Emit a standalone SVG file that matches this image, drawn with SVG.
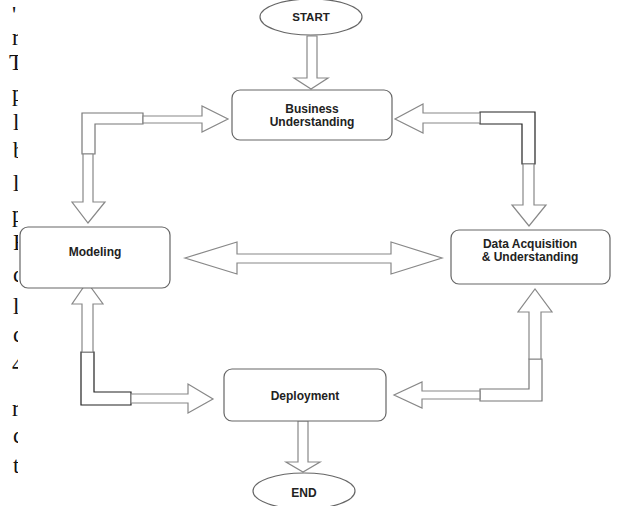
<svg xmlns="http://www.w3.org/2000/svg" width="619" height="506" viewBox="0 0 619 506">
<defs>
<clipPath id="clipL"><rect x="0" y="0" width="18" height="506"/></clipPath>
</defs>
<style>
.frag{font-family:"Liberation Serif","Times New Roman",serif;font-size:23px;fill:#111}
.box{fill:#fff;stroke:#666;stroke-width:1.2}
.ell{fill:#fff;stroke:#666;stroke-width:1.2}
.lbl{font-family:"Liberation Sans",Arial,sans-serif;font-size:12px;font-weight:bold;fill:#222;text-anchor:middle}
.arr{fill:#fff;stroke:#888;stroke-width:1.2;stroke-linejoin:miter}
.elb{fill:#fff;stroke:#777;stroke-width:1.2}
.elbd{fill:#fff;stroke:#222;stroke-width:1.2}
</style>
<rect width="619" height="506" fill="#fff"/>
<g id="page-fragments" clip-path="url(#clipL)">
<text class="frag" x="12" y="22">'</text>
<text class="frag" x="12" y="45">r</text>
<text class="frag" x="9" y="70">T</text>
<text class="frag" x="12" y="101">p</text>
<text class="frag" x="13" y="130">l</text>
<text class="frag" x="13" y="158">b</text>
<text class="frag" x="13" y="191">l</text>
<text class="frag" x="12" y="222">p</text>
<text class="frag" x="13" y="250">F</text>
<text class="frag" x="13" y="282">c</text>
<text class="frag" x="13" y="314">l</text>
<text class="frag" x="13" y="342">c</text>
<text class="frag" x="12" y="372">4</text>
<text class="frag" x="12" y="416">r</text>
<text class="frag" x="13" y="443">c</text>
<text class="frag" x="13" y="473">t</text>
</g>
<g id="connectors">
<polygon class="arr" points="307,36 307,78 294,78 311,89 328,78 317,78 317,36"/>
<polygon class="elb" points="82,113 143,113 143,124 95,124 95,154 82,154"/>
<polygon class="arr" points="143,116 202,116 202,106 228,119 202,132 202,123 143,123"/>
<polygon class="arr" points="83,154 83,202 72,202 88,223 105,202 93,202 93,154"/>
<polygon class="elbd" points="480,112 535,112 535,164 522,164 522,124 480,124"/>
<polygon class="arr" points="480,113 423,113 423,104 395,119 423,133 423,123 480,123"/>
<polygon class="arr" points="523,164 523,205 512,205 529,226 546,205 534,205 534,164"/>
<polygon class="arr" points="185,258 237,242 237,254 391,254 391,242 442,258 391,274 391,263 237,263 237,274"/>
<polygon class="elbd" points="81,352 94,352 94,392 131,392 131,405 81,405"/>
<polygon class="arr" points="82,352 82,304 72,304 87,282 103,304 93,304 93,352"/>
<polygon class="arr" points="131,394 188,394 188,384 213,399 188,413 188,403 131,403"/>
<polygon class="elb" points="529,359 542,359 542,401 480,401 480,389 529,389"/>
<polygon class="arr" points="529,359 529,312 518,312 535,289 552,312 541,312 541,359"/>
<polygon class="arr" points="480,391 422,391 422,382 394,395 422,408 422,399 480,399"/>
<polygon class="arr" points="298,421 298,462 286,462 303,472 320,462 308,462 308,421"/>
</g>
<g id="start">
<ellipse class="ell" cx="311" cy="17" rx="51" ry="18"/>
<text class="lbl" x="311" y="21" style="font-size:11.5px">START</text>
</g>
<g id="business">
<rect class="box" x="232" y="90" width="160" height="50" rx="8"/>
<text class="lbl" x="312" y="113">Business</text>
<text class="lbl" x="312" y="126">Understanding</text>
</g>
<g id="modeling">
<rect class="box" x="20" y="227" width="150" height="61" rx="8"/>
<text class="lbl" x="95" y="256">Modeling</text>
</g>
<g id="data">
<rect class="box" x="451" y="230" width="159" height="54" rx="8"/>
<text class="lbl" x="530" y="248">Data Acquisition</text>
<text class="lbl" x="530" y="261">&amp; Understanding</text>
</g>
<g id="deployment">
<rect class="box" x="224" y="369" width="162" height="52" rx="8"/>
<text class="lbl" x="305" y="400">Deployment</text>
</g>
<g id="end">
<ellipse class="ell" cx="304" cy="491" rx="51" ry="18"/>
<text class="lbl" x="304" y="497">END</text>
</g>
</svg>
